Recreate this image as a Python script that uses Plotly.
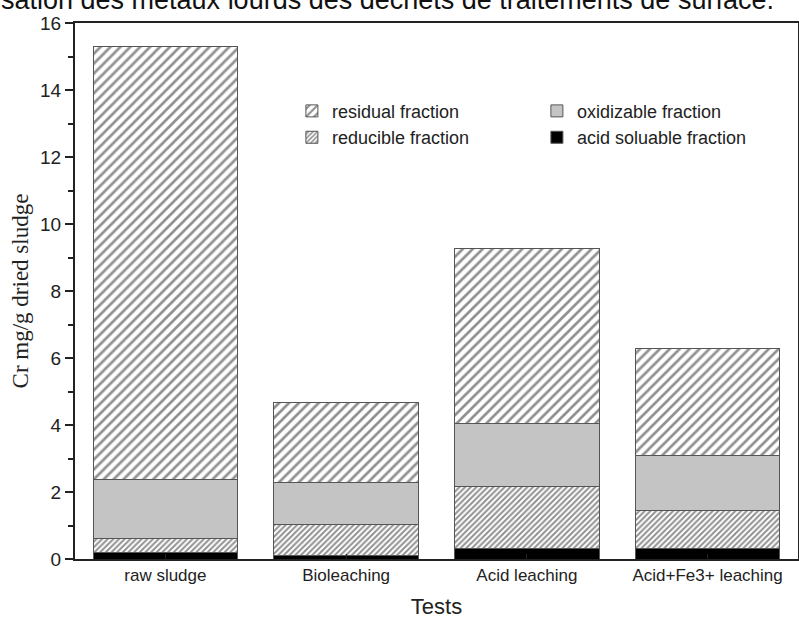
import plotly.graph_objects as go

categories = ["raw sludge", "Bioleaching", "Acid leaching", "Acid+Fe3+ leaching"]
# cumulative tops (mg/g)
acid_soluble = [0.20, 0.10, 0.32, 0.30]
reducible_top = [0.60, 1.03, 2.15, 1.45]
oxidizable_top = [2.37, 2.29, 4.05, 3.10]
total_top = [15.30, 4.67, 9.27, 6.27]

reducible = [b - a for a, b in zip(acid_soluble, reducible_top)]
oxidizable = [b - a for a, b in zip(reducible_top, oxidizable_top)]
residual = [b - a for a, b in zip(oxidizable_top, total_top)]

title_text = "sation des métaux lourds des déchets de traitements de surface."
y_title = "Cr mg/g dried sludge"
x_title = "Tests"

line = dict(color="#555555", width=1)

fig = go.Figure()
fig.add_trace(go.Bar(
    x=categories, y=acid_soluble, name="acid soluable fraction", legendrank=4,
    marker=dict(color="#000000", line=line)))
fig.add_trace(go.Bar(
    x=categories, y=reducible, name="reducible fraction", legendrank=3,
    marker=dict(color="#ffffff", line=line,
                pattern=dict(shape="/", size=4, solidity=0.5,
                             fgcolor="#222222", bgcolor="#ffffff"))))
fig.add_trace(go.Bar(
    x=categories, y=oxidizable, name="oxidizable fraction", legendrank=2,
    marker=dict(color="#c4c4c4", line=line)))
fig.add_trace(go.Bar(
    x=categories, y=residual, name="residual fraction", legendrank=1,
    marker=dict(color="#ffffff", line=line,
                pattern=dict(shape="/", size=7, solidity=0.38,
                             fgcolor="#222222", bgcolor="#ffffff"))))

fig.update_layout(
    barmode="stack", bargap=0.2,
    width=799, height=630,
    margin=dict(l=75, r=1, t=23, b=71, autoexpand=False),
    paper_bgcolor="white", plot_bgcolor="white",
    font=dict(family="Arial, Liberation Sans, sans-serif", color="#222222", size=15),
    showlegend=True,
    legend=dict(orientation="h", x=0.30, xanchor="left", y=0.87, yanchor="top",
                entrywidth=200, entrywidthmode="pixels",
                font=dict(size=18, color="#222222"), bgcolor="rgba(0,0,0,0)",
                traceorder="normal"),
    xaxis=dict(showline=True, linecolor="#222222", linewidth=2, mirror=True,
               ticks="inside", ticklen=5, tickcolor="#222222", automargin=False,
               title=dict(text=x_title, font=dict(size=22), standoff=14),
               tickfont=dict(size=17), showgrid=False),
    yaxis=dict(range=[0, 16], dtick=2, showline=True, linecolor="#222222",
               linewidth=2, mirror=True, ticks="outside", ticklen=8,
               tickwidth=1.5, tickcolor="#222222", automargin=False,
               minor=dict(dtick=1, ticks="outside", ticklen=5, tickcolor="#222222"),
               showgrid=False, zeroline=False, tickfont=dict(size=19),
               title=dict(text=y_title,
                          font=dict(family="Liberation Serif, Times New Roman, serif",
                                    size=23), standoff=5)),
    annotations=[dict(text=title_text, xref="paper", yref="paper",
                      x=-76 / 723, y=1.043, xanchor="left", yanchor="middle",
                      showarrow=False,
                      font=dict(size=27, color="#111111",
                                family="Arial, Liberation Sans, sans-serif"))],
)

fig.write_html("out.html", config={"displayModeBar": False},
               post_script="document.body.style.margin='0';")
